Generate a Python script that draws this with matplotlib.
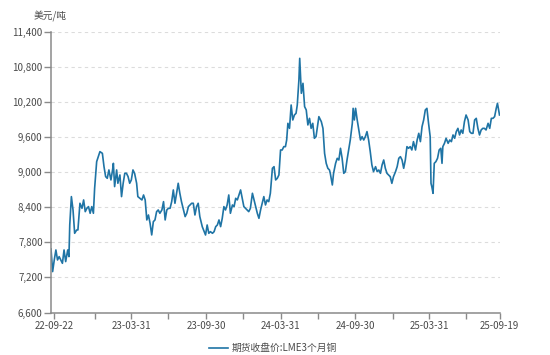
import matplotlib
matplotlib.use("Agg")
import matplotlib.pyplot as plt
import matplotlib.dates as mdates
import matplotlib.ticker as mticker
import numpy as np
import pandas as pd

plt.rcParams['font.family'] = ['Noto Sans CJK SC', 'DejaVu Sans']

# LME 3-month copper close, USD/t
dates = [
    "2022-09-15", "2022-09-19", "2022-09-23", "2022-09-27", "2022-10-01", "2022-10-05", "2022-10-09", "2022-10-13", "2022-10-17", "2022-10-21",
    "2022-10-26", "2022-10-29", "2022-10-31", "2022-11-04", "2022-11-08", "2022-11-12", "2022-11-17", "2022-11-20", "2022-11-25", "2022-11-30",
    "2022-12-04", "2022-12-08", "2022-12-12", "2022-12-16", "2022-12-20", "2022-12-24", "2022-12-28", "2022-12-31", "2023-01-05", "2023-01-09",
    "2023-01-13", "2023-01-19", "2023-01-23", "2023-01-27", "2023-01-31", "2023-02-04", "2023-02-09", "2023-02-13", "2023-02-15", "2023-02-18",
    "2023-02-23", "2023-02-26", "2023-03-03", "2023-03-07", "2023-03-11", "2023-03-15", "2023-03-19", "2023-03-23", "2023-03-27", "2023-03-31",
    "2023-04-04", "2023-04-08", "2023-04-13", "2023-04-16", "2023-04-21", "2023-04-26", "2023-04-30", "2023-05-04", "2023-05-08", "2023-05-12",
    "2023-05-16", "2023-05-20", "2023-05-24", "2023-05-28", "2023-06-01", "2023-06-05", "2023-06-09", "2023-06-14", "2023-06-18", "2023-06-22",
    "2023-06-26", "2023-06-30", "2023-07-04", "2023-07-08", "2023-07-12", "2023-07-16", "2023-07-20", "2023-07-24", "2023-07-28", "2023-08-01",
    "2023-08-06", "2023-08-10", "2023-08-14", "2023-08-18", "2023-08-22", "2023-08-26", "2023-08-30", "2023-09-03", "2023-09-07", "2023-09-11",
    "2023-09-15", "2023-09-21", "2023-09-29", "2023-10-03", "2023-10-07", "2023-10-11", "2023-10-16", "2023-10-20", "2023-10-24", "2023-10-28",
    "2023-11-01", "2023-11-05", "2023-11-09", "2023-11-13", "2023-11-17", "2023-11-21", "2023-11-25", "2023-11-29", "2023-12-04", "2023-12-08",
    "2023-12-12", "2023-12-16", "2023-12-20", "2023-12-24", "2023-12-28", "2024-01-01", "2024-01-05", "2024-01-09", "2024-01-13", "2024-01-17",
    "2024-01-22", "2024-01-26", "2024-01-30", "2024-02-03", "2024-02-07", "2024-02-11", "2024-02-15", "2024-02-19", "2024-02-23", "2024-02-27",
    "2024-03-02", "2024-03-06", "2024-03-11", "2024-03-15", "2024-03-19", "2024-03-23", "2024-03-27", "2024-03-31", "2024-04-04", "2024-04-08",
    "2024-04-12", "2024-04-15", "2024-04-18", "2024-04-22", "2024-04-26", "2024-04-30", "2024-05-04", "2024-05-08", "2024-05-11", "2024-05-15",
    "2024-05-17", "2024-05-21", "2024-05-25", "2024-05-29", "2024-06-02", "2024-06-06", "2024-06-10", "2024-06-14", "2024-06-18", "2024-06-22",
    "2024-06-26", "2024-07-03", "2024-07-09", "2024-07-13", "2024-07-17", "2024-07-21", "2024-07-25", "2024-07-29", "2024-07-31", "2024-08-05",
    "2024-08-08", "2024-08-13", "2024-08-17", "2024-08-21", "2024-08-25", "2024-08-29", "2024-09-02", "2024-09-06", "2024-09-10", "2024-09-14",
    "2024-09-18", "2024-09-23", "2024-09-25", "2024-09-28", "2024-10-01", "2024-10-05", "2024-10-09", "2024-10-13", "2024-10-17", "2024-10-21",
    "2024-10-25", "2024-10-29", "2024-11-02", "2024-11-06", "2024-11-10", "2024-11-14", "2024-11-19", "2024-11-23", "2024-11-27", "2024-12-01",
    "2024-12-05", "2024-12-09", "2024-12-13", "2024-12-17", "2024-12-21", "2024-12-25", "2024-12-29", "2025-01-02", "2025-01-07", "2025-01-11",
    "2025-01-15", "2025-01-19", "2025-01-23", "2025-01-27", "2025-01-31", "2025-02-04", "2025-02-08", "2025-02-12", "2025-02-16", "2025-02-20",
    "2025-02-25", "2025-03-01", "2025-03-05", "2025-03-09", "2025-03-13", "2025-03-17", "2025-03-21", "2025-03-25", "2025-03-29", "2025-04-02",
    "2025-04-04", "2025-04-06", "2025-04-09", "2025-04-12", "2025-04-16", "2025-04-20", "2025-04-24", "2025-04-28", "2025-05-01", "2025-05-03",
    "2025-05-07", "2025-05-11", "2025-05-16", "2025-05-20", "2025-05-24", "2025-05-28", "2025-06-01", "2025-06-05", "2025-06-09", "2025-06-13",
    "2025-06-17", "2025-06-21", "2025-06-25", "2025-06-29", "2025-07-04", "2025-07-08", "2025-07-12", "2025-07-16", "2025-07-20", "2025-07-24",
    "2025-07-28", "2025-08-01", "2025-08-05", "2025-08-09", "2025-08-13", "2025-08-17", "2025-08-22", "2025-08-26", "2025-08-30", "2025-09-03",
    "2025-09-07", "2025-09-11", "2025-09-14", "2025-09-19",
]
prices = [
    7686, 7299, 7498, 7669, 7498, 7555, 7498, 7441, 7669, 7470,
    7669, 7555, 8097, 8581, 8353, 7954, 8011, 8011, 8467, 8381,
    8524, 8324, 8381, 8410, 8296, 8410, 8296, 8723, 9179, 9264,
    9350, 9321, 9093, 8923, 8894, 9037, 8866, 9037, 9150, 8752,
    9037, 8809, 8951, 8581, 8809, 8980, 8980, 8923, 8809, 8866,
    9037, 8980, 8809, 8581, 8552, 8524, 8609, 8524, 8182, 8267,
    8125, 7926, 8153, 8182, 8324, 8353, 8296, 8353, 8495, 8182,
    8353, 8381, 8381, 8495, 8695, 8467, 8638, 8809, 8638, 8495,
    8353, 8239, 8296, 8410, 8438, 8467, 8467, 8267, 8410, 8467,
    8239, 8067, 7925, 8096, 7954, 7982, 7954, 7982, 8068, 8096,
    8182, 8068, 8210, 8410, 8353, 8438, 8609, 8296, 8438, 8410,
    8552, 8524, 8609, 8695, 8552, 8410, 8381, 8353, 8324, 8381,
    8638, 8524, 8410, 8296, 8210, 8353, 8467, 8581, 8438, 8524,
    8495, 8638, 9065, 9093, 8866, 8894, 8951, 9378, 9378, 9435,
    9435, 9549, 9834, 9748, 10147, 9891, 9976, 10005, 10147, 10575,
    10945, 10347, 10518, 10119, 10062, 9806, 9919, 9748, 9834, 9578,
    9606, 9948, 9862, 9748, 9321, 9150, 9065, 9036, 8979, 8780,
    8979, 9150, 9236, 9207, 9407, 9236, 8979, 9008, 9207, 9378,
    9549, 9834, 10090, 9891, 10090, 9891, 9720, 9549, 9606, 9549,
    9606, 9692, 9549, 9350, 9122, 9008, 9093, 9008, 9036, 8979,
    9122, 9207, 9065, 8979, 8951, 8922, 8808, 8922, 9008, 9093,
    9236, 9264, 9207, 9065, 9207, 9435, 9407, 9435, 9378, 9521,
    9378, 9549, 9663, 9521, 9777, 9891, 10062, 10090, 9834, 9606,
    8808, 8751, 8637, 9150, 9179, 9236, 9378, 9407, 9150, 9435,
    9492, 9578, 9492, 9549, 9521, 9635, 9578, 9692, 9748, 9635,
    9720, 9663, 9862, 9976, 9891, 9692, 9663, 9663, 9891, 9919,
    9748, 9635, 9720, 9748, 9748, 9720, 9834, 9748, 9919, 9919,
    9948, 10090, 10176, 9976,
]
label_dates = ["2022-09-22", "2023-03-31", "2023-09-30", "2024-03-31",
               "2024-09-30", "2025-03-31", "2025-09-19"]
minor_dates = ["2022-12-31", "2023-06-30", "2023-12-31", "2024-06-30",
               "2024-12-31", "2025-06-30"]
y_ticks = [6600, 7200, 7800, 8400, 9000, 9600, 10200, 10800, 11400]
series_name = "期货收盘价:LME3个月铜"
unit = "美元/吨"

x = pd.to_datetime(dates)
line_color = '#1f74a5'
axis_color = '#8a8a8a'
text_color = '#4a4a4a'

fig = plt.figure(figsize=(5.5, 3.55), dpi=100)
ax = fig.add_axes([51 / 550, 1 - 312.5 / 355, 448.5 / 550, 280.8 / 355])

ax.plot(x, prices, color=line_color, lw=1.2, label=series_name)

ax.set_xlim(x[0], x[-1])
ax.set_ylim(y_ticks[0], y_ticks[-1])
ax.set_yticks(y_ticks)
ax.yaxis.set_major_formatter(mticker.FuncFormatter(lambda v, p: f"{int(v):,}"))

ax.set_xticks(pd.to_datetime(label_dates))
ax.set_xticks(pd.to_datetime(minor_dates), minor=True)
ax.xaxis.set_major_formatter(mdates.DateFormatter('%y-%m-%d'))

ax.yaxis.grid(True, linestyle=(0, (3, 3)), color='#dcdcdc', lw=0.8)
ax.set_axisbelow(True)

for s in ['top', 'right']:
    ax.spines[s].set_visible(False)
for s in ['left', 'bottom']:
    ax.spines[s].set_color(axis_color)
    ax.spines[s].set_linewidth(1.1)

ax.tick_params(axis='x', which='both', direction='out', length=4, width=1,
               color=axis_color, labelsize=7, labelcolor=text_color, pad=2)
ax.tick_params(axis='y', direction='out', length=5, width=1,
               color=axis_color, labelsize=7, labelcolor=text_color, pad=1)

fig.text(50 / 550, 1 - 16 / 355, unit, ha='center', va='center',
         fontsize=7, color=text_color)

fig.legend(loc='center', bbox_to_anchor=(273 / 550, 1 - 348 / 355),
           frameon=False, fontsize=7, handlelength=1.9, handletextpad=0.4,
           labelcolor=text_color)

fig.savefig('out.png', dpi=100)
